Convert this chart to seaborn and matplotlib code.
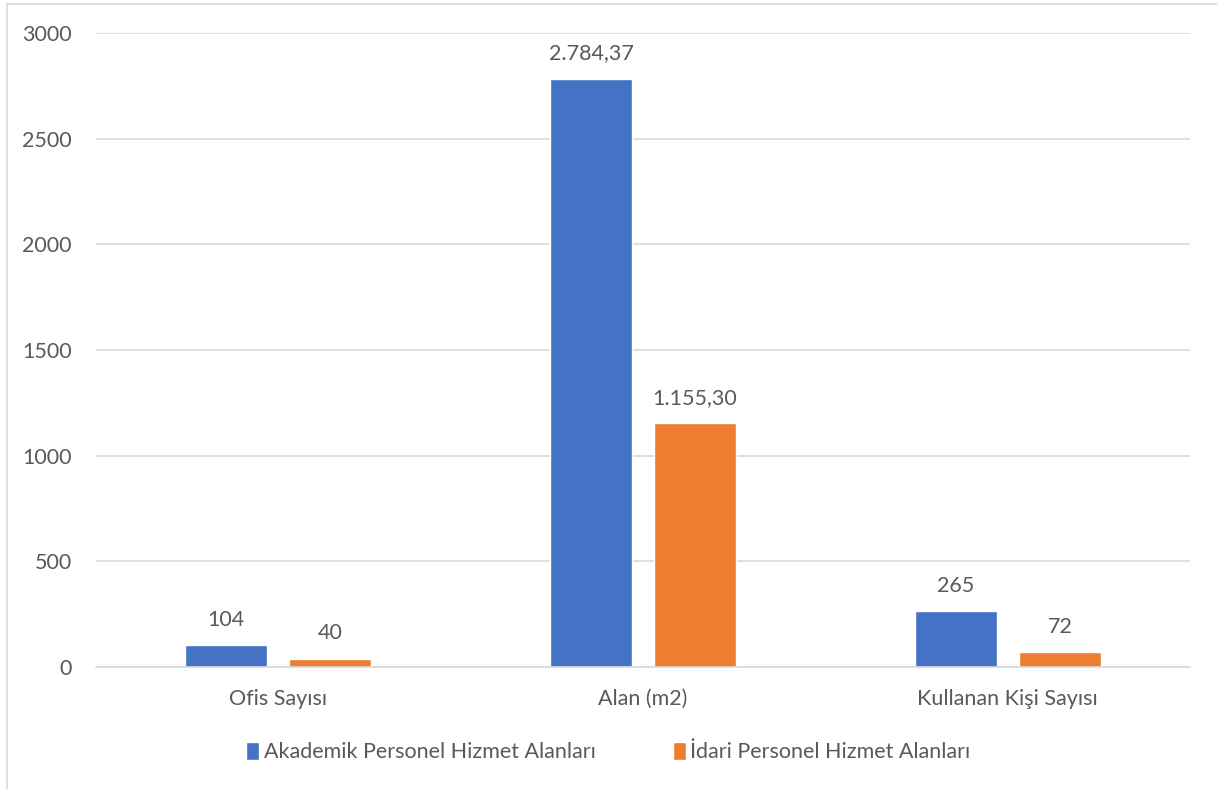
import seaborn as sns
import matplotlib.pyplot as plt
import pandas as pd
from matplotlib.lines import Line2D

categories = ['Ofis Sayısı', 'Alan (m2)', 'Kullanan Kişi Sayısı']
series_names = ['Akademik Personel Hizmet Alanları', 'İdari Personel Hizmet Alanları']
akademik = [104, 2784.37, 265]
idari = [40, 1155.30, 72]
y_ticks = [0, 500, 1000, 1500, 2000, 2500, 3000]

colors = ['#4472C4', '#ED7D31']
text_color = '#595959'
grid_color = '#D9D9D9'

def tr_format(v):
	# Türkçe sayı biçimi: binlik ayırıcı nokta, ondalık virgül
	if float(v).is_integer():
		return f'{int(v)}'
	s = f'{v:,.2f}'
	return s.replace(',', 'X').replace('.', ',').replace('X', '.')

df = pd.DataFrame({
	'kategori': categories * 2,
	'seri': [series_names[0]] * 3 + [series_names[1]] * 3,
	'deger': akademik + idari,
})

sns.set_theme(style='white')
plt.rcParams['font.family'] = ['Lato', 'DejaVu Sans']
fs = 15.5

fig = plt.figure(figsize=(12.17, 7.89), dpi=100)
ax = fig.add_axes([0.0789, 0.1546, 0.8991, 0.8034])

sns.barplot(data=df, x='kategori', y='deger', hue='seri', palette=colors,
			width=0.57, gap=0.21, ax=ax, saturation=1, legend=True)

ax.set_xlim(-0.5, 2.5)
ax.set_ylim(0, 3000)
ax.set_yticks(y_ticks)
ax.set_xlabel('')
ax.set_ylabel('')
ax.yaxis.grid(True, color=grid_color, linewidth=1.2)
ax.set_axisbelow(True)
for side in ['top', 'right', 'left']:
	ax.spines[side].set_visible(False)
ax.spines['bottom'].set_color(grid_color)
ax.spines['bottom'].set_linewidth(1.2)
ax.tick_params(axis='both', length=0, labelsize=fs, labelcolor=text_color)
ax.tick_params(axis='x', pad=16)
ax.tick_params(axis='y', pad=17.5)

for cont in ax.containers:
	ax.bar_label(cont, labels=[tr_format(v) for v in cont.datavalues],
				 padding=11, fontsize=fs, color=text_color)

handles, labels = ax.get_legend_handles_labels()
ax.get_legend().remove()
fig.legend(handles, labels, loc='center', bbox_to_anchor=(0.5, 0.047), ncol=2,
		   frameon=False, fontsize=fs, labelcolor=text_color,
		   handlelength=0.6, handleheight=0.9, handletextpad=0.2, columnspacing=3.6)

# bordo del grafico
fig.add_artist(Line2D([7 / 1217, 7 / 1217], [0, 1 - 4 / 789], color=grid_color, linewidth=1.2))
fig.add_artist(Line2D([7 / 1217, 1], [1 - 4 / 789, 1 - 4 / 789], color=grid_color, linewidth=1.2))

fig.savefig('out.png', dpi=100)
